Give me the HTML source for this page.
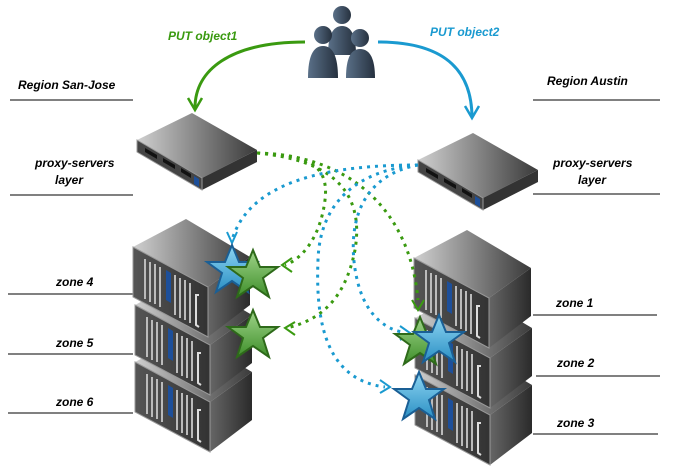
<!DOCTYPE html><html><head><style>body{margin:0;background:#fff}svg{display:block}text{font-family:"Liberation Sans",sans-serif;font-style:italic;font-weight:bold;font-size:12px;fill:#000}</style></head><body>
<svg width="689" height="469" viewBox="0 0 689 469" xmlns="http://www.w3.org/2000/svg">
<defs>
<linearGradient id="top" x1="0" y1="0" x2="1" y2="0"><stop offset="0" stop-color="#d0d0d0"/><stop offset="1" stop-color="#3a3a3a"/></linearGradient>
<linearGradient id="side" x1="0" y1="0" x2="1" y2="0"><stop offset="0" stop-color="#666"/><stop offset="1" stop-color="#2a2a2a"/></linearGradient>
<linearGradient id="front" x1="0" y1="0" x2="1" y2="0"><stop offset="0" stop-color="#555"/><stop offset="1" stop-color="#333"/></linearGradient>
<linearGradient id="gs" x1="0" y1="0" x2="0" y2="1"><stop offset="0" stop-color="#9fd48a"/><stop offset="1" stop-color="#3f8f2a"/></linearGradient>
<linearGradient id="bs" x1="0" y1="0" x2="0" y2="1"><stop offset="0" stop-color="#8fd6f2"/><stop offset="1" stop-color="#2a8fc4"/></linearGradient>
<linearGradient id="ppl" x1="0" y1="0" x2="1" y2="0"><stop offset="0" stop-color="#5a7088"/><stop offset="1" stop-color="#26313f"/></linearGradient>
<g id="rack">
<polygon points="0,0 53,-28 117,10 75,40" fill="url(#top)"/>
<polygon points="75,40 117,10 117,58 75,90" fill="url(#side)"/>
<polygon points="0,0 75,40 75,90 0,50" fill="url(#front)" stroke="#999" stroke-width="1"/>
<g stroke="#bbb" stroke-width="2">
<line x1="12" y1="12" x2="12" y2="52"/><line x1="17" y1="15" x2="17" y2="55"/><line x1="22" y1="17" x2="22" y2="57"/><line x1="27" y1="20" x2="27" y2="60"/><line x1="42" y1="28" x2="42" y2="68"/><line x1="47" y1="31" x2="47" y2="71"/><line x1="52" y1="33" x2="52" y2="73"/><line x1="57" y1="36" x2="57" y2="76"/></g>
<polygon points="33,23 38,26 38,56 33,53" fill="#1d4f9a"/>
<path d="M66,48 l-3,0 0,30 3,2" stroke="#ddd" stroke-width="2" fill="none"/>
</g>
<g id="proxy">
<polygon points="0,0 55,-27 120,10 65,38" fill="url(#top)"/>
<polygon points="65,38 120,10 120,22 65,50" fill="#333"/>
<polygon points="0,0 65,38 65,50 0,12" fill="#444" stroke="#999" stroke-width="1"/>
<polygon points="8,8 20,15 20,19 8,12" fill="#111"/><polygon points="26,18 38,25 38,29 26,22" fill="#111"/><polygon points="44,28 54,34 54,38 44,32" fill="#111"/>
<polygon points="57,36 62,39 62,47 57,44" fill="#1d4f9a"/>
</g>
<polygon id="star" points="0,-25 7,-8 25,-8 10,3 16,22 0,11 -16,22 -10,3 -25,-8 -7,-8"/>
</defs>
<g stroke="#000" stroke-width="1">
<line x1="10" y1="100" x2="133" y2="100"/><line x1="10" y1="195" x2="133" y2="195"/>
<line x1="8" y1="294" x2="133" y2="294"/><line x1="8" y1="354" x2="133" y2="354"/><line x1="8" y1="413" x2="133" y2="413"/>
<line x1="533" y1="100" x2="660" y2="100"/><line x1="533" y1="194" x2="660" y2="194"/>
<line x1="533" y1="315" x2="657" y2="315"/><line x1="536" y1="376" x2="660" y2="376"/><line x1="533" y1="434" x2="658" y2="434"/>
</g>
<text x="18" y="89">Region San-Jose</text><text x="547" y="85">Region Austin</text>
<text x="35" y="167">proxy-servers</text><text x="55" y="184">layer</text>
<text x="553" y="167">proxy-servers</text><text x="578" y="184">layer</text>
<text x="56" y="286">zone 4</text><text x="56" y="347">zone 5</text><text x="56" y="406">zone 6</text>
<text x="556" y="307">zone 1</text><text x="557" y="367">zone 2</text><text x="557" y="427">zone 3</text>
<text x="168" y="40" style="fill:#3a9a10">PUT object1</text><text x="430" y="36" style="fill:#1a9ad0">PUT object2</text>
<path d="M305,42 C230,42 195,70 195,108" stroke="#3a9a10" stroke-width="3" fill="none"/>
<path d="M188,98 L195,110 L202,98" stroke="#3a9a10" stroke-width="2.5" fill="none"/>
<path d="M378,42 C450,42 472,75 472,118" stroke="#1a9ad0" stroke-width="3" fill="none"/>
<path d="M465,106 L472,118 L479,106" stroke="#1a9ad0" stroke-width="2.5" fill="none"/>
<g fill="url(#ppl)">
<circle cx="342" cy="15" r="9"/><path d="M328,55 Q328,26 342,26 Q356,26 356,55 Z"/>
<circle cx="323" cy="35" r="9"/><path d="M308,78 Q308,46 323,46 Q338,46 338,78 Z"/>
<circle cx="360" cy="38" r="9"/><path d="M346,78 Q346,49 360,49 Q375,49 375,78 Z"/>
</g>
<use href="#proxy" x="137" y="140"/><use href="#proxy" x="418" y="160"/>
<use href="#rack" x="135" y="362"/><use href="#rack" x="135" y="305"/><use href="#rack" x="133" y="247"/>
<use href="#rack" x="415" y="375"/><use href="#rack" x="415" y="318"/><use href="#rack" x="414" y="258"/>
<g fill="none" stroke-width="3" stroke-dasharray="3,5">
<g stroke="#3a9a10">
<path d="M257,153 C300,155 330,160 325,200 C320,240 300,260 285,265"/>
<path d="M257,153 C330,160 365,190 355,250 C345,300 320,320 287,328"/>
<path d="M257,153 C350,155 410,210 418,300"/>
</g>
<g stroke="#1a9ad0">
<path d="M418,165 C330,165 250,180 232,240"/>
<path d="M418,165 C360,170 320,200 318,260 C315,330 330,380 385,387"/>
<path d="M418,165 C340,180 350,260 360,290 C370,320 390,330 402,332"/>
</g>
</g>
<g fill="none" stroke-width="2">
<path d="M292,258 L282,265 L292,272" stroke="#3a9a10"/><path d="M295,322 L285,328 L295,335" stroke="#3a9a10"/>
<path d="M412,300 L418,310 L424,300" stroke="#3a9a10"/>
<path d="M227,232 L232,243 L237,232" stroke="#1a9ad0"/><path d="M380,380 L390,387 L380,393" stroke="#1a9ad0"/><path d="M400,326 L410,333 L400,340" stroke="#1a9ad0"/>
</g>
<use href="#star" x="232" y="270" fill="url(#bs)" stroke="#1a5f95" stroke-width="2"/>
<use href="#star" x="253" y="275" fill="url(#gs)" stroke="#2e6a1a" stroke-width="2"/>
<use href="#star" x="253" y="335" fill="url(#gs)" stroke="#2e6a1a" stroke-width="2"/>
<use href="#star" x="420" y="342" fill="url(#gs)" stroke="#2e6a1a" stroke-width="2"/>
<use href="#star" x="439" y="340" fill="url(#bs)" stroke="#1a5f95" stroke-width="2"/>
<use href="#star" x="419" y="397" fill="url(#bs)" stroke="#1a5f95" stroke-width="2"/>
</svg></body></html>
